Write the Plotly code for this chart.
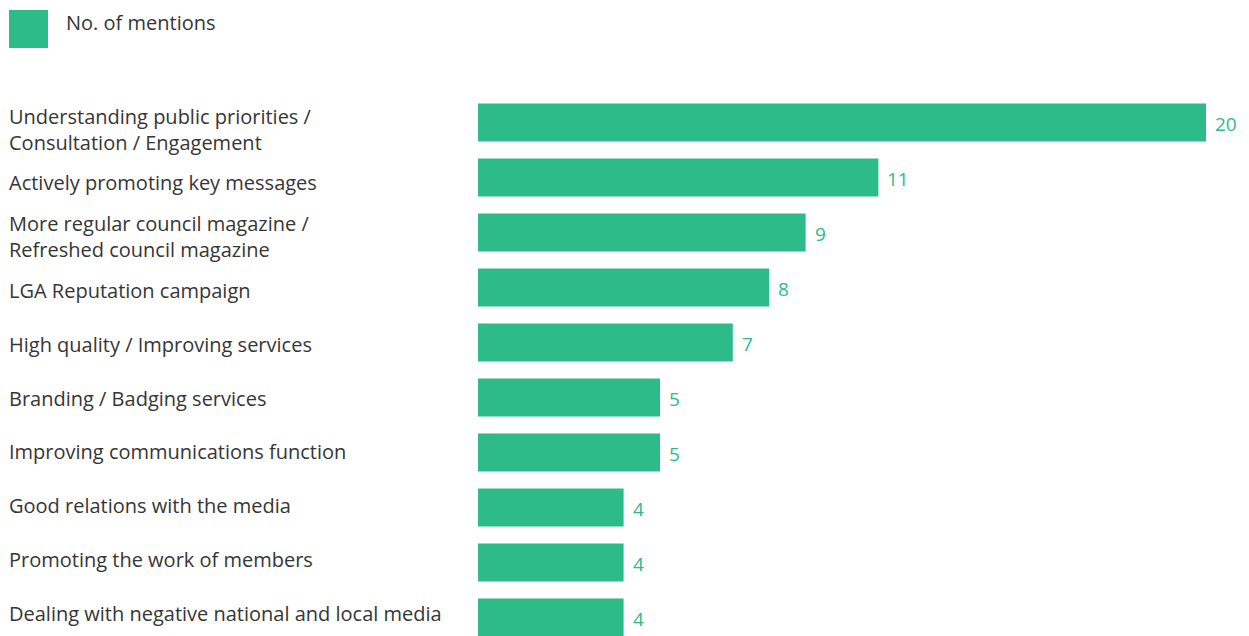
import plotly.graph_objects as go

categories = [
    "Understanding public priorities /<br>Consultation / Engagement",
    "Actively promoting key messages",
    "More regular council magazine /<br>Refreshed council magazine",
    "LGA Reputation campaign",
    "High quality / Improving services",
    "Branding / Badging services",
    "Improving communications function",
    "Good relations with the media",
    "Promoting the work of members",
    "Dealing with negative national and local media",
]
mentions = [20, 11, 9, 8, 7, 5, 5, 4, 4, 4]
series_name = "No. of mentions"

GREEN = "#2ebb8a"
TEXT = "#363636"
FONT = "Open Sans"
FS = 20

W, H = 1249, 636
ML, MR, MT, MB = 478, 0, 95, 0
plot_w = W - ML - MR
plot_h = H - MT - MB
px_per_unit = 36.4

ypos = list(range(len(categories)))

fig = go.Figure()
fig.add_trace(go.Bar(
    x=mentions,
    y=ypos,
    orientation="h",
    width=0.69,
    marker=dict(color=GREEN, line=dict(width=0)),
    name=series_name,
    showlegend=False,
    hoverinfo="skip",
))

annotations = []
# value labels just past each bar end
for i, v in enumerate(mentions):
    annotations.append(dict(
        x=v, xref="x", xanchor="left", xshift=8,
        y=i, yref="y", yanchor="middle", yshift=-1,
        text=str(v), showarrow=False, borderpad=0,
        font=dict(size=FS - 1, color=GREEN, family=FONT),
    ))

# category labels, left-aligned at the page edge
for i, label in enumerate(categories):
    annotations.append(dict(
        x=-(ML - 8) / plot_w, xref="paper", xanchor="left",
        y=i, yref="y", yanchor="middle",
        yshift=-(6.5 - 1.2 * i),
        text=label, showarrow=False, align="left", borderpad=0,
        font=dict(size=FS, color=TEXT, family=FONT),
    ))

# legend key
annotations.append(dict(
    x=-(ML - 65) / plot_w, xref="paper", xanchor="left",
    y=1 + (MT - 22) / plot_h, yref="paper", yanchor="middle",
    text=series_name, showarrow=False, borderpad=0,
    font=dict(size=FS, color=TEXT, family=FONT),
))

pitch = 55.0
bottom_units = plot_h / pitch - 0.5

fig.update_layout(
    width=W, height=H,
    margin=dict(l=ML, r=MR, t=MT, b=MB, pad=0),
    paper_bgcolor="white", plot_bgcolor="white",
    xaxis=dict(range=[0, plot_w / px_per_unit], visible=False, fixedrange=True),
    yaxis=dict(range=[bottom_units, -0.5], visible=False, fixedrange=True),
    annotations=annotations,
    shapes=[dict(
        type="rect", xref="paper", yref="paper",
        x0=-(ML - 9) / plot_w, x1=-(ML - 48) / plot_w,
        y0=1 + (MT - 48) / plot_h, y1=1 + (MT - 10) / plot_h,
        fillcolor=GREEN, line=dict(width=0),
    )],
    font=dict(family=FONT),
)

fig.write_html("out.html")
